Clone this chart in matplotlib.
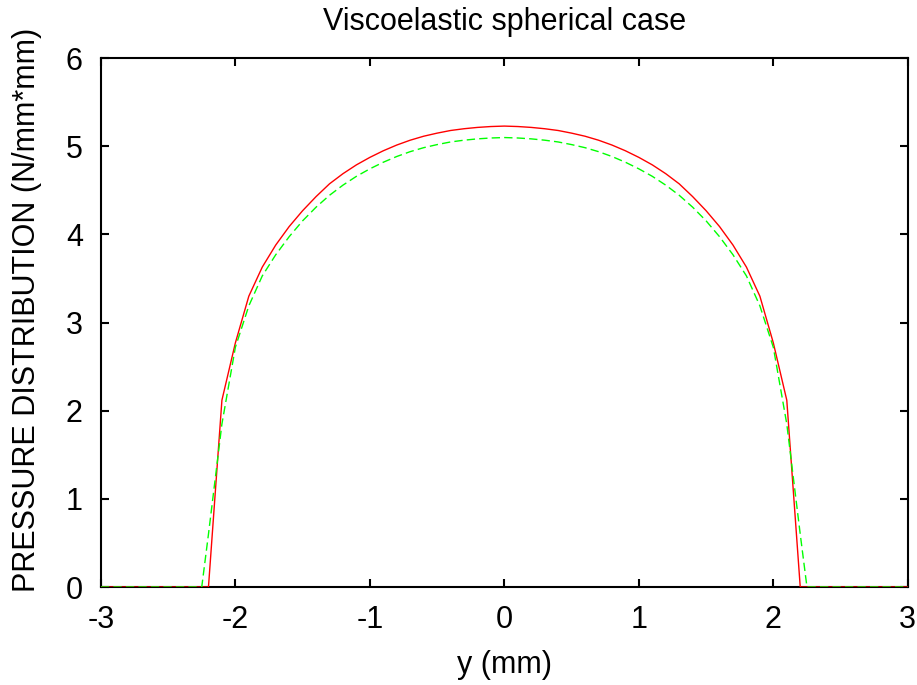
import numpy as np
import matplotlib.pyplot as plt

plt.rcParams['font.family'] = ['Liberation Sans', 'DejaVu Sans']
plt.rcParams['axes.unicode_minus'] = False

# half-profile data (|y| in mm), mirrored below
y_red_half = [0.0, 0.1, 0.2, 0.3, 0.4, 0.5, 0.6, 0.7, 0.8, 0.9, 1.0, 1.1, 1.2,
              1.3, 1.4, 1.5, 1.6, 1.7, 1.8, 1.9, 2.0, 2.1, 2.2, 3.0]
p_red_half = [5.23, 5.225, 5.215, 5.20, 5.18, 5.15, 5.115, 5.07, 5.015, 4.95,
              4.875, 4.79, 4.69, 4.575, 4.43, 4.27, 4.09, 3.88, 3.63, 3.30,
              2.77, 2.12, 0.0, 0.0]

y_green_half = [0.0, 0.1, 0.2, 0.3, 0.4, 0.5, 0.6, 0.7, 0.8, 0.9, 1.0, 1.1, 1.2,
                1.3, 1.4, 1.5, 1.6, 1.7, 1.8, 1.9, 2.0, 2.1, 2.2, 2.25, 3.0]
p_green_half = [5.10, 5.095, 5.085, 5.07, 5.05, 5.02, 4.985, 4.94, 4.885, 4.82,
                4.745, 4.66, 4.56, 4.445, 4.31, 4.155, 3.975, 3.77, 3.53, 3.19,
                2.72, 1.85, 0.60, 0.0, 0.0]

def mirror(y, p):
    y = np.array(y)
    p = np.array(p)
    return np.concatenate([-y[::-1], y[1:]]), np.concatenate([p[::-1], p[1:]])

yr, pr = mirror(y_red_half, p_red_half)
yg, pg = mirror(y_green_half, p_green_half)

fig = plt.figure(figsize=(9.17, 6.85), dpi=100)
ax = fig.add_axes([0.110, 0.143, 0.880, 0.772])

ax.plot(yr, pr, '-', color='#ff0000', lw=1.0, zorder=3)
ax.plot(yg, pg, '--', color='#00ff00', lw=1.0, dashes=(6, 3), zorder=4)

ax.set_xlim(-3, 3)
ax.set_ylim(0, 6)
ax.set_xticks(np.arange(-3, 4, 1))
ax.set_yticks(np.arange(0, 7, 1))
ax.tick_params(direction='in', length=6, width=1.5, top=True, right=True,
               labelsize=22, pad=13)
for s in ax.spines.values():
    s.set_linewidth(1.5)

ax.set_title('Viscoelastic spherical case', fontsize=22, pad=20)
ax.set_xlabel('y (mm)', fontsize=22, labelpad=11)
ax.set_ylabel('PRESSURE DISTRIBUTION (N/mm*mm)', fontsize=22)
ax.yaxis.set_label_coords(-0.073, 0.524)

plt.savefig('out.png', dpi=100)
